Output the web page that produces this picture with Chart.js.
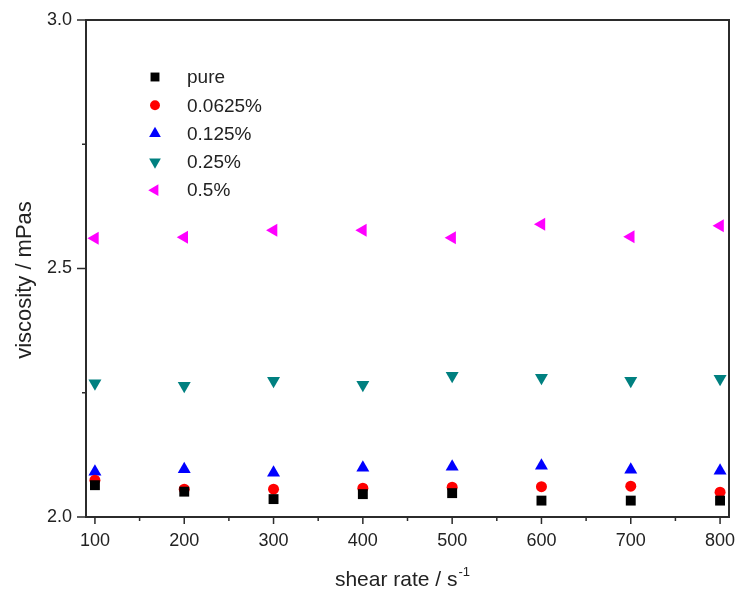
<!DOCTYPE html>
<html><head><meta charset="utf-8">
<script src="https://cdn.jsdelivr.net/npm/chart.js@4.4.1/dist/chart.umd.min.js"></script>
<style>html,body{margin:0;padding:0;background:#fff}#wrap{width:737px;height:591px;position:relative}</style>
</head><body><div id="wrap"><canvas id="c" width="737" height="591"></canvas></div>
<script>
const shearRates = [100, 200, 300, 400, 500, 600, 700, 800];
const seriesNames = ['pure', '0.0625%', '0.125%', '0.25%', '0.5%'];
const pureVals    = [2.064, 2.051, 2.036, 2.046, 2.048, 2.033, 2.033, 2.033];
const c0625Vals   = [2.074, 2.056, 2.056, 2.058, 2.060, 2.061, 2.062, 2.050];
const c125Vals    = [2.091, 2.096, 2.089, 2.099, 2.101, 2.103, 2.095, 2.093];
const c25Vals     = [2.269, 2.264, 2.274, 2.266, 2.284, 2.280, 2.274, 2.278];
const c5Vals      = [2.561, 2.563, 2.577, 2.577, 2.562, 2.589, 2.564, 2.586];
const xMajorTicks = [100, 200, 300, 400, 500, 600, 700, 800];
const xMinorTicks = [150, 250, 350, 450, 550, 650, 750];
const yMajorTicks = [2.0, 2.5, 3.0];
const yMinorTicks = [2.25, 2.75];

const FONT = '"Liberation Sans", Arial, sans-serif';
const AX = '#2b2b2b';
const styles = [
  {color:'#000000', style:'rect', r:7, rot:0},
  {color:'#ff0000', style:'circle', r:5.5, rot:0},
  {color:'#0000ff', style:'triangle', r:7.5, rot:0},
  {color:'#008080', style:'triangle', r:7.5, rot:180},
  {color:'#ff00ff', style:'triangle', r:7.5, rot:270}
];
const vals = [pureVals, c0625Vals, c125Vals, c25Vals, c5Vals];
const datasets = seriesNames.map((n,i)=>({
  label:n,
  data: shearRates.map((x,j)=>({x:x, y:vals[i][j]})),
  showLine:false,
  pointStyle:styles[i].style,
  pointRadius:styles[i].r,
  pointHoverRadius:styles[i].r,
  pointRotation:styles[i].rot,
  backgroundColor:styles[i].color,
  borderColor:styles[i].color,
  borderWidth:0
}));

const decor = {
  id:'decor',
  afterDraw(chart){
    const ctx = chart.ctx, xs = chart.scales.x, ys = chart.scales.y, a = chart.chartArea;
    ctx.save();
    ctx.strokeStyle = AX; ctx.lineWidth = 2;
    ctx.strokeRect(a.left, a.top, a.right - a.left, a.bottom - a.top);
    ctx.lineWidth = 1.5;
    ctx.beginPath();
    xMajorTicks.forEach(v=>{const p=xs.getPixelForValue(v); ctx.moveTo(p,a.bottom); ctx.lineTo(p,a.bottom+7);});
    xMinorTicks.forEach(v=>{const p=xs.getPixelForValue(v); ctx.moveTo(p,a.bottom); ctx.lineTo(p,a.bottom+4);});
    yMajorTicks.forEach(v=>{const p=ys.getPixelForValue(v); ctx.moveTo(a.left,p); ctx.lineTo(a.left-9,p);});
    yMinorTicks.forEach(v=>{const p=ys.getPixelForValue(v); ctx.moveTo(a.left,p); ctx.lineTo(a.left-4,p);});
    ctx.stroke();
    ctx.fillStyle = '#222';
    ctx.font = '18px ' + FONT;
    ctx.textAlign = 'center'; ctx.textBaseline = 'top';
    xMajorTicks.forEach(v=>ctx.fillText(String(v), xs.getPixelForValue(v), a.bottom + 15));
    ctx.textAlign = 'right'; ctx.textBaseline = 'middle';
    yMajorTicks.forEach(v=>ctx.fillText(v.toFixed(1), a.left - 14, ys.getPixelForValue(v)));
    // x title with superscript
    ctx.textBaseline = 'alphabetic'; ctx.textAlign = 'left';
    const t1 = 'shear rate / s', t2 = '-1';
    ctx.font = '21px ' + FONT; const w1 = ctx.measureText(t1).width;
    ctx.font = '13px ' + FONT; const w2 = ctx.measureText(t2).width;
    const cx = 402, x0 = cx - (w1 + w2)/2, by = 586;
    ctx.font = '21px ' + FONT; ctx.fillText(t1, x0, by);
    ctx.font = '13px ' + FONT; ctx.fillText(t2, x0 + w1 + 1, by - 10);
    // y title
    ctx.save();
    ctx.translate(25, 280);
    ctx.rotate(-Math.PI/2);
    ctx.font = '22px ' + FONT; ctx.textAlign = 'center'; ctx.textBaseline = 'middle';
    ctx.fillText('viscosity / mPas', 0, 0);
    ctx.restore();
    // legend
    chart.data.datasets.forEach((d,i)=>{
      const y = 77 + i*28.3;
      ctx.fillStyle = d.backgroundColor;
      Chart.helpers.drawPoint(ctx, {pointStyle:d.pointStyle, rotation:d.pointRotation, radius:d.pointRadius*0.9, borderWidth:0}, 155, y);
      ctx.fillStyle = '#222';
      ctx.font = '19px ' + FONT; ctx.textAlign = 'left'; ctx.textBaseline = 'middle';
      ctx.fillText(d.label, 187, y + 1);
    });
    ctx.restore();
  }
};

new Chart(document.getElementById('c'), {
  type:'scatter',
  data:{datasets},
  options:{
    responsive:false, animation:false, devicePixelRatio:1,
    layout:{padding:{left:0, top:20, right:8, bottom:0}},
    plugins:{legend:{display:false}, tooltip:{enabled:false}},
    scales:{
      x:{type:'linear', min:90, max:810,
         grid:{display:false}, border:{display:false},
         ticks:{display:false},
         afterFit(s){s.height = 74;}},
      y:{type:'linear', min:2.0, max:3.0,
         grid:{display:false}, border:{display:false},
         ticks:{display:false},
         afterFit(s){s.width = 86;}}
    }
  },
  plugins:[decor]
});
</script></body></html>
